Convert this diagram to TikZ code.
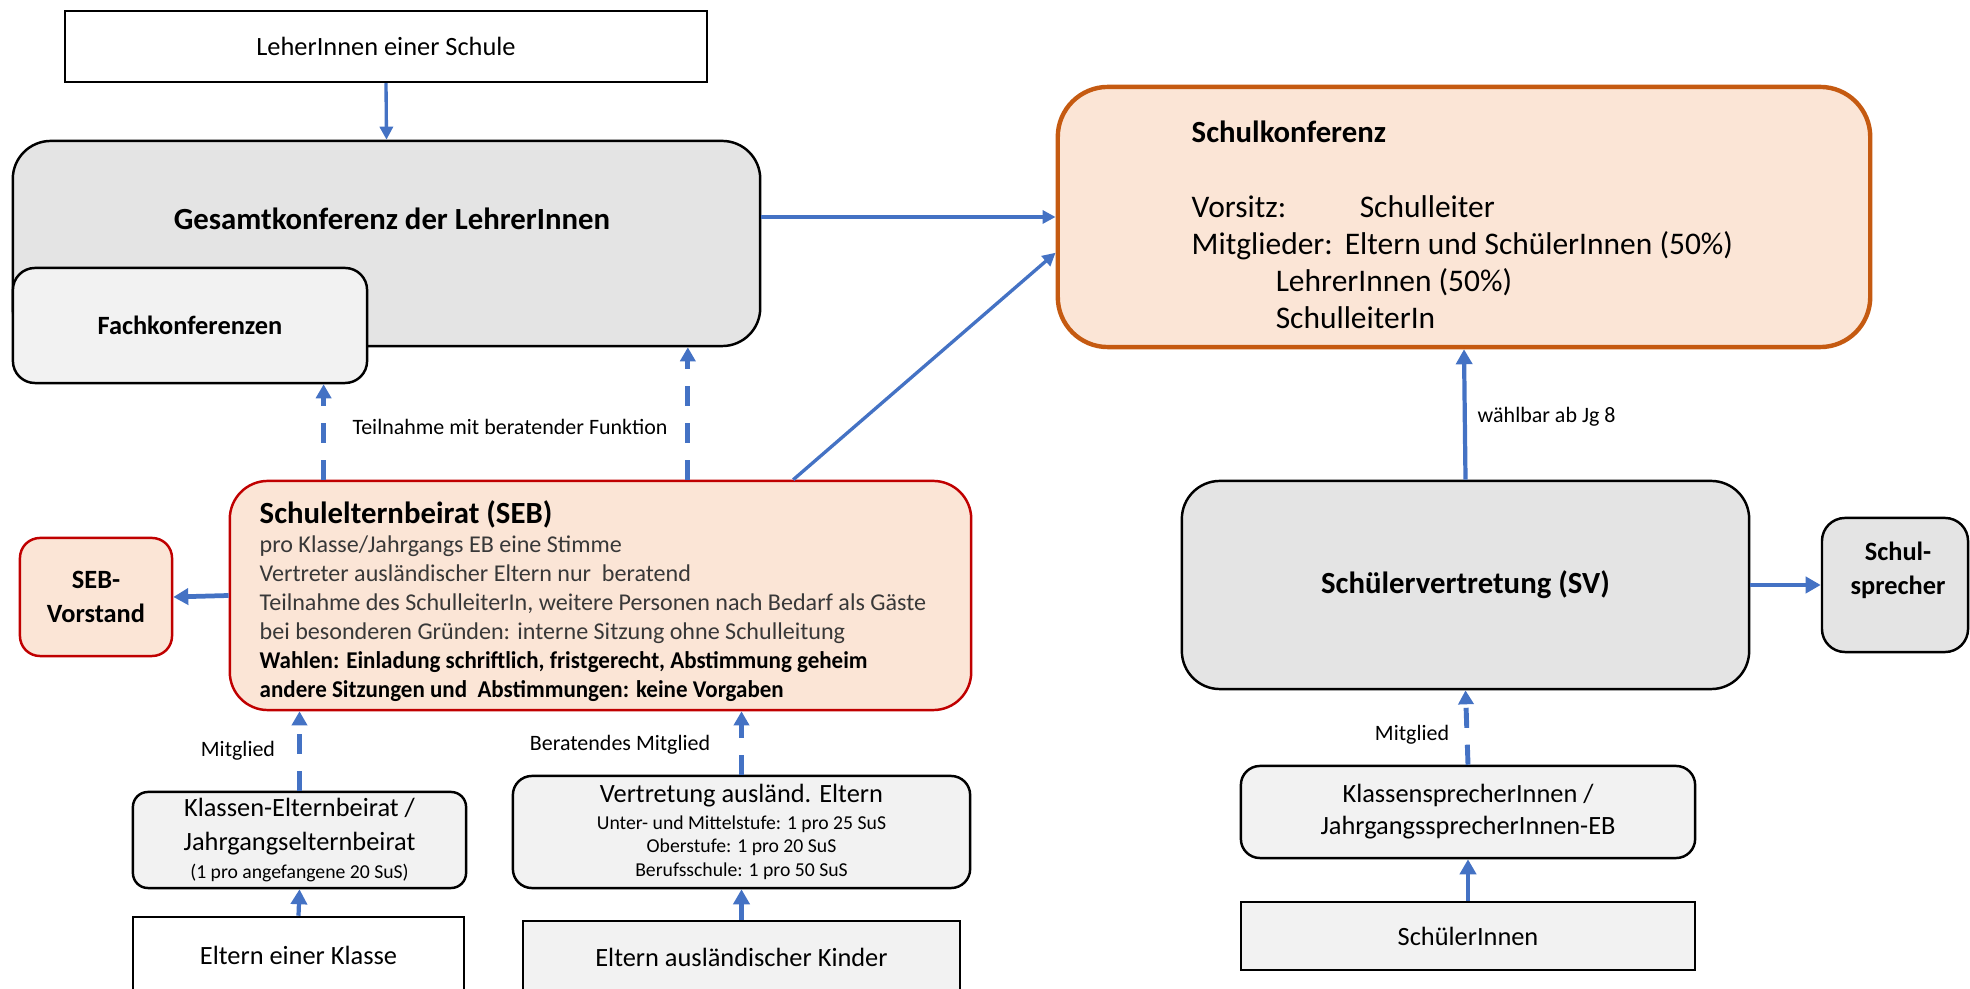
\documentclass[tikz,border=0pt]{standalone}
\usepackage{fontspec}
\setmainfont{Carlito}
\usepackage{graphicx}
\usetikzlibrary{arrows.meta}
\definecolor{blau}{HTML}{4472C4}
\definecolor{pfirsich}{HTML}{FBE5D6}
\definecolor{orangerand}{HTML}{C55A11}
\definecolor{rotrand}{HTML}{C00000}
\definecolor{grau}{HTML}{E4E4E4}
\definecolor{hellgrau}{HTML}{F2F2F2}
\newcommand{\duenn}[1]{\textcolor{black!78}{#1}}
\newcommand{\fett}[1]{\scalebox{0.955}[1]{\bfseries #1}}

\begin{document}
\begin{tikzpicture}[x=0.01cm,y=-0.01cm,
  kasten/.style={draw,line width=0.7pt,inner sep=0pt,align=center,font=\fontsize{7.5}{9.6}\selectfont},
  rkasten/.style={kasten,rounded corners=#1},
  titel/.style={font=\bfseries\fontsize{8.75}{10}\selectfont,align=center},
  klein/.style={font=\fontsize{6.25}{7.5}\selectfont,inner sep=0pt},
  pfeil/.style={draw=blau,line width=#1,-{Triangle[length=0.13cm,width=0.13cm]}},
  dickpfeil/.style={draw=blau,line width=#1,-{Triangle[length=0.15cm,width=0.16cm]}},
  strich/.style={draw=blau,line width=1.4pt,dash pattern=on 5.7pt off 4.8pt,-{Triangle[length=0.14cm,width=0.15cm]}}]

\useasboundingbox (0,0) rectangle (1970,989);

% Lehrer oben links
\node[kasten,minimum width=6.42cm,minimum height=0.71cm] (lehrer) at (386,46.5) {LeherInnen einer Schule};
\node[rkasten=0.38cm,fill=grau,minimum width=7.47cm,minimum height=2.05cm] (gesamt) at (386.5,243.5) {};
\node[titel] (gesamttxt) at (392,219) {Gesamtkonferenz der LehrerInnen};
\node[rkasten=0.22cm,fill=hellgrau,minimum width=3.54cm,minimum height=1.15cm,font=\bfseries\fontsize{7.5}{9}\selectfont] (fach) at (190,325.5) {Fachkonferenzen};

% Schulkonferenz
\node[rkasten=0.5cm,draw=orangerand,line width=1.25pt,fill=pfirsich,minimum width=8.12cm,minimum height=2.6cm] (skonf) at (1464,217) {};
\node[anchor=north west,align=left,inner sep=0pt,font=\fontsize{8.95}{10.5}\selectfont] (skonftxt) at (1191,120) {{\bfseries\fontsize{8.75}{10.5}\selectfont Schulkonferenz}\\[11pt]
  \makebox[1.68cm][l]{Vorsitz:}Schulleiter\\
  \makebox[1.53cm][l]{Mitglieder:}Eltern und SchülerInnen (50\%)\\
  \hspace*{0.84cm}LehrerInnen (50\%)\\
  \hspace*{0.84cm}SchulleiterIn};

% Schulelternbeirat
\node[rkasten=0.38cm,draw=rotrand,fill=pfirsich,minimum width=7.41cm,minimum height=2.29cm] (seb) at (600.5,595.5) {};
\node[anchor=north west,align=left,inner sep=0pt,font=\fontsize{6.85}{8.25}\selectfont] (sebtxt) at (259,500) {{\bfseries\fontsize{8.75}{10}\selectfont Schulelternbeirat (SEB)}\\
  \duenn{pro Klasse/Jahrgangs EB eine Stimme}\\
  \duenn{Vertreter ausländischer Eltern nur\ \ beratend}\\
  \duenn{Teilnahme des SchulleiterIn, weitere Personen nach Bedarf als Gäste}\\
  \duenn{bei besonderen Gründen: interne Sitzung ohne Schulleitung}\\
  \fett{Wahlen: Einladung schriftlich, fristgerecht, Abstimmung geheim}\\
  \fett{andere Sitzungen und\ \ Abstimmungen: keine Vorgaben}};
\node[rkasten=0.2cm,draw=rotrand,fill=pfirsich,minimum width=1.52cm,minimum height=1.18cm,font=\bfseries\fontsize{7.5}{9.6}\selectfont] (vorstand) at (96,597) {SEB-\\Vorstand};

% Eltern unten
\node[rkasten=0.15cm,fill=hellgrau,minimum width=3.33cm,minimum height=0.96cm] (keb) at (299.5,840) {Klassen-Elternbeirat /\\Jahrgangselternbeirat\\[-1.7pt]{\fontsize{5.6}{6.7}\selectfont (1 pro angefangene 20 SuS)}};
\node[kasten,fill=white,minimum width=3.31cm,minimum height=0.76cm] (ekl) at (298.5,955) {Eltern einer Klasse};
\node[rkasten=0.19cm,fill=hellgrau,minimum width=4.57cm,minimum height=1.12cm,font=\fontsize{5.6}{6.7}\selectfont] (vae) at (741.5,832) {{\fontsize{7.5}{9}\selectfont Vertretung ausländ. Eltern}\\[0.7pt]Unter- und Mittelstufe: 1 pro 25 SuS\\Oberstufe: 1 pro 20 SuS\\Berufsschule: 1 pro 50 SuS};
\node[kasten,fill=hellgrau,minimum width=4.37cm,minimum height=0.72cm] (eak) at (741.5,957) {Eltern ausländischer Kinder};

% Schueler rechts
\node[rkasten=0.38cm,fill=grau,minimum width=5.67cm,minimum height=2.08cm,font=\bfseries\fontsize{8.75}{10}\selectfont] (sv) at (1465.5,585) {Schülervertretung (SV)};
\node[rkasten=0.23cm,fill=grau,minimum width=1.46cm,minimum height=1.34cm] (ssp) at (1895,585) {};
\node[font=\bfseries\fontsize{7.5}{9.6}\selectfont,align=center] (ssptxt) at (1898,570) {Schul-\\sprecher};
\node[rkasten=0.19cm,fill=hellgrau,minimum width=4.54cm,minimum height=0.92cm,font=\fontsize{7.5}{9.1}\selectfont] (ksp) at (1468,812) {KlassensprecherInnen /\\JahrgangssprecherInnen-EB};
\node[kasten,fill=hellgrau,minimum width=4.54cm,minimum height=0.68cm] (sus) at (1468,936) {SchülerInnen};

% Pfeile
\draw[pfeil=0.95pt] (lehrer.south) -- (gesamt.north);
\draw[pfeil=0.95pt] (gesamt.east |- skonf.west) -- (skonf.west); % zur Schulkonferenz
\draw[pfeil=0.95pt] (seb.31) -- (skonf.185);
\coordinate (fachfuss) at ([xshift=0.95cm]seb.north west);
\coordinate (gesamtfuss) at ([xshift=4.59cm]seb.north west);
\draw[strich] (fachfuss) -- (fachfuss |- fach.south);
\draw[strich] (gesamtfuss) -- (gesamtfuss |- gesamt.south);
\node[klein] (teilnahme) at (510,427) {Teilnahme mit beratender Funktion};
\draw[dickpfeil=1.35pt] (seb.west) -- (vorstand.east); % thick
\draw[strich] (keb.north) -- (keb.north |- seb.south);
\node[klein] (mitglied1) at (238,751) {Mitglied};
\draw[dickpfeil=1.2pt] (ekl.north) -- (keb.south);
\draw[strich] (vae.north) -- (vae.north |- seb.south);
\node[klein] (beratend) at (620,745) {Beratendes Mitglied};
\draw[dickpfeil=1.2pt] (eak.north) -- (vae.south);
\draw[dickpfeil=1.2pt] (sv.north) -- (skonf.south);
\node[klein,anchor=west] (waehlbar) at (1477,417) {wählbar ab Jg 8};
\draw[dickpfeil=1.35pt] (sv.east) -- (ssp.west); % thick
\draw[strich] (ksp.north) -- (sv.south);
\node[klein] (mitglied2) at (1412,735) {Mitglied};
\draw[dickpfeil=1.35pt] (sus.north) -- (ksp.south);
\end{tikzpicture}
\end{document}
